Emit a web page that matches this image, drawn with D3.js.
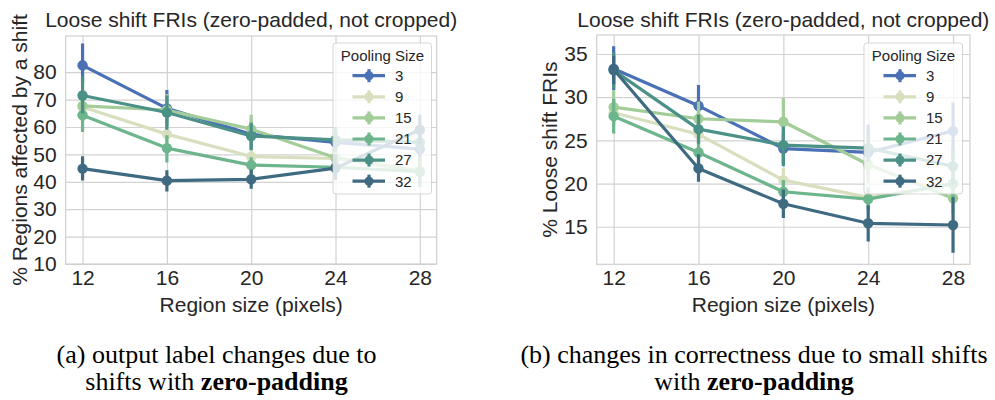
<!DOCTYPE html>
<html>
<head>
<meta charset="utf-8">
<script src="https://cdn.jsdelivr.net/npm/d3@7"></script>
<style>
  html, body { margin: 0; padding: 0; background: #ffffff; }
  svg { display: block; }
  .sans { font-family: "Liberation Sans", Arial, sans-serif; fill: #262626; }
  .serif { font-family: "Liberation Serif", "Times New Roman", serif; fill: #000; }
</style>
</head>
<body>
<svg id="fig" width="995" height="400"></svg>
<script>
// Region sizes (pixels) on the x axis
const regionSizes = [12, 16, 20, 24, 28];
// Pooling sizes (hue levels) and their colours
const poolingSizes = ["3", "9", "15", "21", "27", "32"];
const poolColors = ["#4a70b5", "#d8dfbe", "#a2cd98", "#6db58c", "#4c9187", "#3e6a82"];

// Panel (a): % regions affected by a shift — mean and CI [low, high]
const affectedMean = {
  "3":  [82.5, 66.8, 57.3, 54.4, 51.9],
  "9":  [67.3, 57.4, 49.2, 48.5, 43.5],
  "15": [67.7, 66.2, 59.2, 48.8, 44.0],
  "21": [64.3, 52.3, 46.1, 45.3, 43.7],
  "27": [71.5, 65.3, 56.7, 55.3, 54.4],
  "32": [44.8, 40.4, 40.9, 45.0, 59.0]
};
const affectedLow = {
  "3":  [76.0, 61.0, 52.0, 49.0, 47.0],
  "9":  [62.0, 53.0, 45.0, 44.0, 39.0],
  "15": [62.0, 60.0, 54.0, 44.0, 39.0],
  "21": [58.2, 47.0, 43.0, 42.0, 38.0],
  "27": [65.0, 59.0, 51.5, 51.0, 50.0],
  "32": [40.5, 36.5, 37.5, 40.7, 54.0]
};
const affectedHigh = {
  "3":  [90.5, 73.5, 62.0, 60.0, 57.0],
  "9":  [72.0, 62.0, 53.0, 53.0, 48.0],
  "15": [73.0, 72.0, 64.5, 54.0, 49.0],
  "21": [70.0, 57.0, 49.0, 48.5, 49.0],
  "27": [78.5, 71.5, 61.5, 60.0, 59.0],
  "32": [49.3, 44.2, 44.5, 50.0, 64.5]
};
const affectedTicks = [10, 20, 30, 40, 50, 60, 70, 80];

// Panel (b): % loose shift FRIs — mean and CI [low, high]
const friMean = {
  "3":  [33.3, 29.0, 24.05, 23.6, 26.1],
  "9":  [28.2, 25.7, 20.4, 18.4, 19.9],
  "15": [28.85, 27.5, 27.15, 22.2, 18.3],
  "21": [27.8, 23.6, 19.05, 18.2, 20.0],
  "27": [33.1, 26.3, 24.45, 24.1, 22.0],
  "32": [33.2, 21.75, 17.66, 15.4, 15.2]
};
const friLow = {
  "3":  [30.8, 26.8, 22.3, 21.0, 22.8],
  "9":  [26.5, 24.0, 19.0, 17.0, 18.0],
  "15": [27.0, 25.5, 24.5, 20.0, 16.5],
  "21": [25.8, 22.0, 17.8, 17.0, 18.0],
  "27": [31.0, 24.6, 22.0, 22.5, 19.8],
  "32": [31.5, 20.2, 16.0, 13.3, 12.0]
};
const friHigh = {
  "3":  [35.9, 31.4, 25.8, 26.8, 29.4],
  "9":  [30.0, 27.5, 21.8, 20.0, 21.8],
  "15": [30.8, 29.5, 29.9, 24.5, 20.0],
  "21": [29.8, 25.3, 20.4, 19.5, 22.0],
  "27": [35.2, 28.0, 26.6, 25.8, 24.2],
  "32": [34.8, 23.4, 19.3, 17.5, 18.4]
};
const friTicks = [15, 20, 25, 30, 35];

const titleText = "Loose shift FRIs (zero-padded, not cropped)";
const xLabelText = "Region size (pixels)";

const svg = d3.select("#fig");

function drawPanel(opt) {
  const { left, right, top, bottom, yDomain, yTicks, mean, low, high, yLabel, yLabelX, legendX } = opt;
  const g = svg.append("g");
  const x = d3.scalePoint().domain(regionSizes).range([left, right]).padding(0.2);
  const y = d3.scaleLinear().domain(yDomain).range([bottom, top]);

  // grid lines
  g.append("g").attr("transform", `translate(0,${bottom})`)
    .call(d3.axisBottom(x).tickSize(-(bottom - top)).tickFormat(""))
    .call(s => s.select(".domain").remove())
    .selectAll("line").attr("stroke", "#d2d2d2").attr("stroke-width", 1.2);
  g.append("g").attr("transform", `translate(${left},0)`)
    .call(d3.axisLeft(y).tickValues(yTicks).tickSize(-(right - left)).tickFormat(""))
    .call(s => s.select(".domain").remove())
    .selectAll("line").attr("stroke", "#d2d2d2").attr("stroke-width", 1.2);

  // frame
  g.append("rect").attr("x", left).attr("y", top)
    .attr("width", right - left).attr("height", bottom - top)
    .attr("fill", "none").attr("stroke", "#cfcfcf").attr("stroke-width", 1.2);

  // tick labels
  const xa = g.append("g").attr("transform", `translate(0,${bottom})`)
    .call(d3.axisBottom(x).tickSize(0).tickPadding(6));
  xa.select(".domain").remove();
  xa.selectAll("text").attr("class", "sans").attr("font-size", 21).attr("fill", "#262626");

  const ya = g.append("g").attr("transform", `translate(${left},0)`)
    .call(d3.axisLeft(y).tickValues(yTicks).tickSize(0).tickPadding(9));
  ya.select(".domain").remove();
  ya.selectAll("text").attr("class", "sans").attr("font-size", 21).attr("fill", "#262626");

  // series: line, confidence intervals, points
  const clipId = "clip" + left;
  svg.append("clipPath").attr("id", clipId).append("rect")
    .attr("x", left).attr("y", top).attr("width", right - left).attr("height", bottom - top);
  const data = g.append("g").attr("clip-path", `url(#${clipId})`);
  poolingSizes.forEach((p, k) => {
    const col = poolColors[k];
    const pts = regionSizes.map((r, i) => ({ r, m: mean[p][i], lo: low[p][i], hi: high[p][i] }));
    data.append("path").datum(pts)
      .attr("d", d3.line().x(d => x(d.r)).y(d => y(d.m)))
      .attr("fill", "none").attr("stroke", col).attr("stroke-width", 3.2)
      .attr("stroke-linejoin", "round");
    data.selectAll(null).data(pts).enter().append("line")
      .attr("x1", d => x(d.r)).attr("x2", d => x(d.r))
      .attr("y1", d => y(d.lo)).attr("y2", d => y(d.hi))
      .attr("stroke", col).attr("stroke-width", 3.2);
    data.selectAll(null).data(pts).enter().append("circle")
      .attr("cx", d => x(d.r)).attr("cy", d => y(d.m)).attr("r", 5.2)
      .attr("fill", col);
  });

  // title and axis labels
  g.append("text").attr("class", "sans").attr("font-size", 21)
    .attr("x", (left + right) / 2).attr("y", 27).attr("text-anchor", "middle")
    .text(titleText);
  g.append("text").attr("class", "sans").attr("font-size", 21)
    .attr("x", (left + right) / 2).attr("y", 311.5).attr("text-anchor", "middle")
    .text(xLabelText);
  g.append("text").attr("class", "sans").attr("font-size", 21)
    .attr("transform", `translate(${yLabelX},${(top + bottom) / 2}) rotate(-90)`)
    .attr("text-anchor", "middle")
    .text(yLabel);

  // legend
  const lg = g.append("g").attr("transform", `translate(${legendX},43)`);
  lg.append("rect").attr("x", 0).attr("y", 0).attr("width", 98.5).attr("height", 151)
    .attr("rx", 3).attr("fill", "#ffffff").attr("fill-opacity", 0.8)
    .attr("stroke", "#cccccc").attr("stroke-opacity", 0.8).attr("stroke-width", 1);
  lg.append("text").attr("class", "sans").attr("font-size", 15)
    .attr("x", 49.5).attr("y", 17.5).attr("text-anchor", "middle").text("Pooling Size");
  const entry = lg.selectAll("g.entry").data(poolingSizes).enter().append("g")
    .attr("transform", (d, i) => `translate(0,${32.7 + i * 21.1})`);
  entry.append("line").attr("x1", 19.5).attr("x2", 52).attr("y1", 0).attr("y2", 0)
    .attr("stroke", (d, i) => poolColors[i]).attr("stroke-width", 3.2);
  entry.append("line").attr("x1", 36).attr("x2", 36).attr("y1", -6.5).attr("y2", 6.5)
    .attr("stroke", (d, i) => poolColors[i]).attr("stroke-width", 3.2);
  entry.append("circle").attr("cx", 36).attr("cy", 0).attr("r", 4.6)
    .attr("fill", (d, i) => poolColors[i]);
  entry.append("text").attr("class", "sans").attr("font-size", 15)
    .attr("x", 62).attr("y", 5.3).text(d => d);
}

drawPanel({
  left: 65.7, right: 436.7, top: 36, bottom: 264,
  yDomain: [10, 93.2], yTicks: affectedTicks,
  mean: affectedMean, low: affectedLow, high: affectedHigh,
  yLabel: "% Regions affected by a shift", yLabelX: 27, legendX: 333
});
drawPanel({
  left: 596.7, right: 970, top: 35, bottom: 264.3,
  yDomain: [10.65, 37.2], yTicks: friTicks,
  mean: friMean, low: friLow, high: friHigh,
  yLabel: "% Loose shift FRIs", yLabelX: 557, legendX: 864
});

// sub-figure captions
function caption(cx, lines) {
  lines.forEach((parts, i) => {
    const t = svg.append("text").attr("class", "serif").attr("font-size", 26)
      .attr("x", cx).attr("y", 363 + i * 27).attr("text-anchor", "middle");
    parts.forEach(p => t.append("tspan").attr("font-weight", p.bold ? "bold" : "normal").text(p.text));
  });
}
caption(216.5, [
  [{ text: "(a) output label changes due to" }],
  [{ text: "shifts with " }, { text: "zero-padding", bold: true }]
]);
caption(754, [
  [{ text: "(b) changes in correctness due to small shifts" }],
  [{ text: "with " }, { text: "zero-padding", bold: true }]
]);
</script>
</body>
</html>
